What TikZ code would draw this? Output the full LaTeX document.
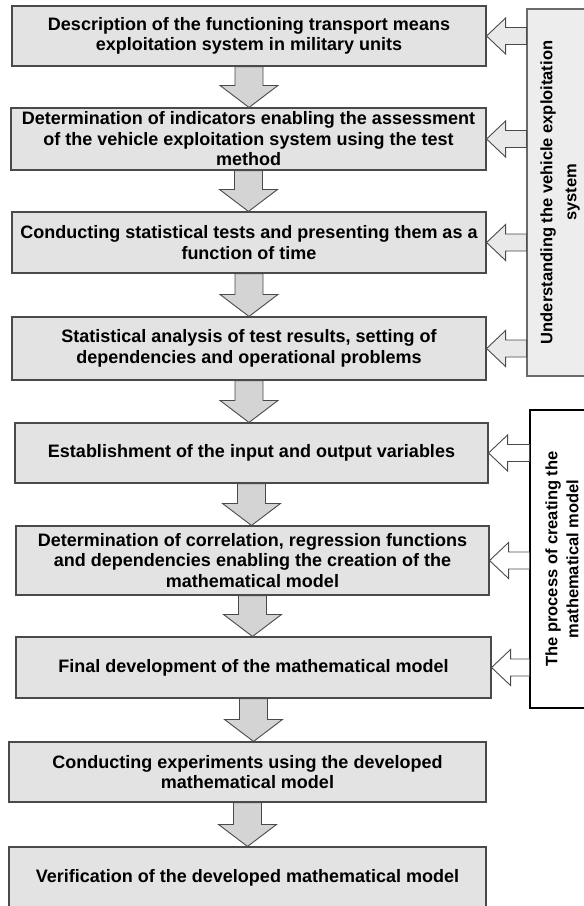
\documentclass[tikz,border=0pt]{standalone}
\usepackage{fontspec}
\setmainfont{Liberation Sans}
\usetikzlibrary{calc}
\definecolor{boxfill}{HTML}{E3E3E3}
\definecolor{sidefill}{HTML}{EDEDED}
\definecolor{sarrfill}{HTML}{E9E9E9}
\definecolor{arrfill}{HTML}{D4D4D4}
\definecolor{edgecol}{HTML}{4A4A4A}
\definecolor{sideedge}{HTML}{6A6A6A}
\newcommand\blockdown[2]{%
  \draw[varrow] let \p1=(#1.south), \p2=(#2.north) in
    (\x1-14pt,\y1) -- (\x1-14pt,\y2+22pt) -- (\x1-29pt,\y2+22pt) -- (\x1,\y2)
    -- (\x1+29pt,\y2+22pt) -- (\x1+14pt,\y2+22pt) -- (\x1+14pt,\y1) -- cycle;}
\newcommand\blockleft[3]{%
  \draw[sarrow, fill=#3] let \p1=(#2.east), \p2=(#1.north) in
    (\x2,\y1+8.5pt) -- (\x1+19pt,\y1+8.5pt) -- (\x1+19pt,\y1+18pt) -- (\x1,\y1)
    -- (\x1+19pt,\y1-18pt) -- (\x1+19pt,\y1-8.5pt) -- (\x2,\y1-8.5pt) -- cycle;}
\begin{document}
\begin{tikzpicture}[x=1pt,y=-1pt,
  stepbox/.style={draw=edgecol, line width=1.1pt, fill=boxfill, inner sep=0pt,
    align=center, font=\fontsize{18}{20.5}\selectfont\bfseries},
  sidebox/.style={rotate=90, inner sep=0pt, align=center},
  varrow/.style={draw=edgecol, line width=0.9pt, fill=arrfill, line join=miter},
  sarrow/.style={draw=edgecol, line width=0.9pt, line join=miter}]
\useasboundingbox (0,0) rectangle (584,906);
\clip (0,0) rectangle (584,906);
\node[stepbox, minimum width=474, minimum height=60] (b1) at (249,36)
  {Description of the functioning transport means\\exploitation system in military units};
\node[stepbox, minimum width=475, minimum height=62] (b2) at (248.5,139)
  {Determination of indicators enabling the assessment\\of the vehicle exploitation system using the test\\method};
\node[stepbox, minimum width=474, minimum height=61] (b3) at (249,242.5)
  {Conducting statistical tests and presenting them as a\\function of time};
\node[stepbox, minimum width=474, minimum height=63] (b4) at (249,348.5)
  {Statistical analysis of test results, setting of\\dependencies and operational problems};
\node[stepbox, minimum width=473, minimum height=60] (b5) at (251.5,453)
  {Establishment of the input and output variables};
\node[stepbox, minimum width=473, minimum height=69] (b6) at (252.5,560.5)
  {Determination of correlation, regression functions\\and dependencies enabling the creation of the\\mathematical model};
\node[stepbox, minimum width=475, minimum height=61] (b7) at (253.5,667.5)
  {Final development of the mathematical model};
\node[stepbox, minimum width=477, minimum height=60] (b8) at (247.5,772)
  {Conducting experiments using the developed\\mathematical model};
\node[stepbox, minimum width=477, minimum height=62] (b9) at (247.5,878)
  {Verification of the developed mathematical model};
\node[sidebox, draw=sideedge, line width=1.1pt, fill=sidefill, minimum width=367, minimum height=66,
  font=\fontsize{16.5}{24}\selectfont\bfseries] (r1) at (560,192.5)
  {Understanding the vehicle exploitation\\system};
\node[sidebox, draw=black, line width=1.1pt, fill=white, minimum width=298, minimum height=64,
  font=\fontsize{16.5}{21}\selectfont\bfseries] (r2) at (562,559)
  {The process of creating the\\mathematical model};
\blockdown{b1}{b2}
\blockdown{b2}{b3}
\blockdown{b3}{b4}
\blockdown{b4}{b5}
\blockdown{b5}{b6}
\blockdown{b6}{b7}
\blockdown{b7}{b8}
\blockdown{b8}{b9}
\blockleft{r1}{b1}{sarrfill}
\blockleft{r1}{b2}{sarrfill}
\blockleft{r1}{b3}{sarrfill}
\blockleft{r1}{b4}{sarrfill}
\blockleft{r2}{b5}{white}
\blockleft{r2}{b6}{white}
\blockleft{r2}{b7}{white}
\end{tikzpicture}
\end{document}
